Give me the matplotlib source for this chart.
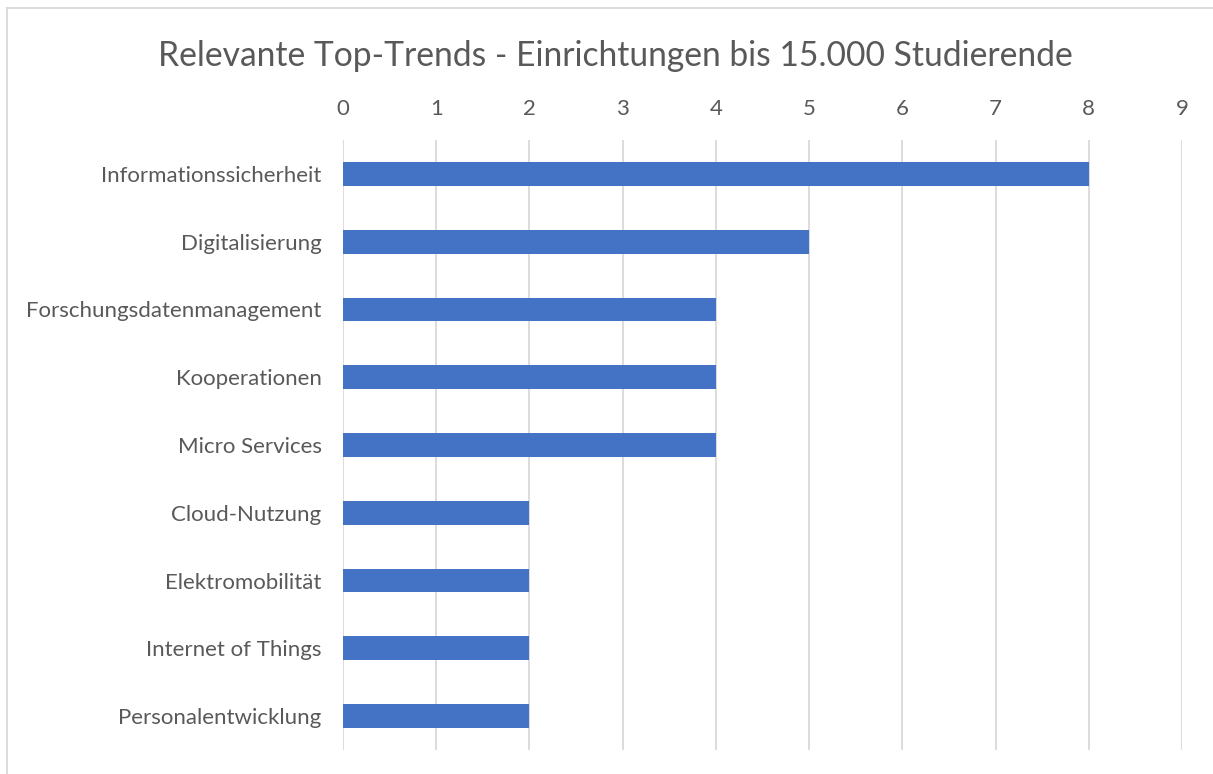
import matplotlib
matplotlib.use("Agg")
import matplotlib.pyplot as plt
from matplotlib.lines import Line2D

categories = ["Informationssicherheit", "Digitalisierung", "Forschungsdatenmanagement",
              "Kooperationen", "Micro Services", "Cloud-Nutzung", "Elektromobilität",
              "Internet of Things", "Personalentwicklung"]
values = [8, 5, 4, 4, 4, 2, 2, 2, 2]
xticks = list(range(0, 10))

plt.rcParams['font.family'] = ['Lato', 'DejaVu Sans']
txt = '#595959'

fig = plt.figure(figsize=(12.13, 7.74), dpi=100)
ax = fig.add_axes([0.2828, 0.031, 0.6917, 0.7881])

ypos = list(range(len(categories)))
ax.barh(ypos, values, height=0.35, color='#4472C4', zorder=3)
ax.set_ylim(len(categories) - 0.5, -0.5)
ax.set_xlim(0, 9)
ax.set_yticks(ypos)
ax.set_yticklabels(categories)
ax.set_xticks(xticks)
ax.xaxis.tick_top()
ax.tick_params(axis='both', length=0, labelsize=16, colors=txt)
ax.tick_params(axis='x', pad=15)
ax.tick_params(axis='y', pad=15.5)
ax.grid(axis='x', color='#D9D9D9', linewidth=1.3, zorder=0)
for s in ax.spines.values():
    s.set_visible(False)

fig.text(0.507, 0.928, "Relevante Top-Trends - Einrichtungen bis 15.000 Studierende",
         ha='center', va='center', fontsize=24.2, color=txt)

# rahmen (nur oben und links sichtbar)
fig.add_artist(Line2D([7/1213, 7/1213], [0, 1 - 8/774], transform=fig.transFigure, color='#D9D9D9', lw=1.3))
fig.add_artist(Line2D([7/1213, 1], [1 - 8/774, 1 - 8/774], transform=fig.transFigure, color='#D9D9D9', lw=1.3))

fig.savefig("out.png", dpi=100)
